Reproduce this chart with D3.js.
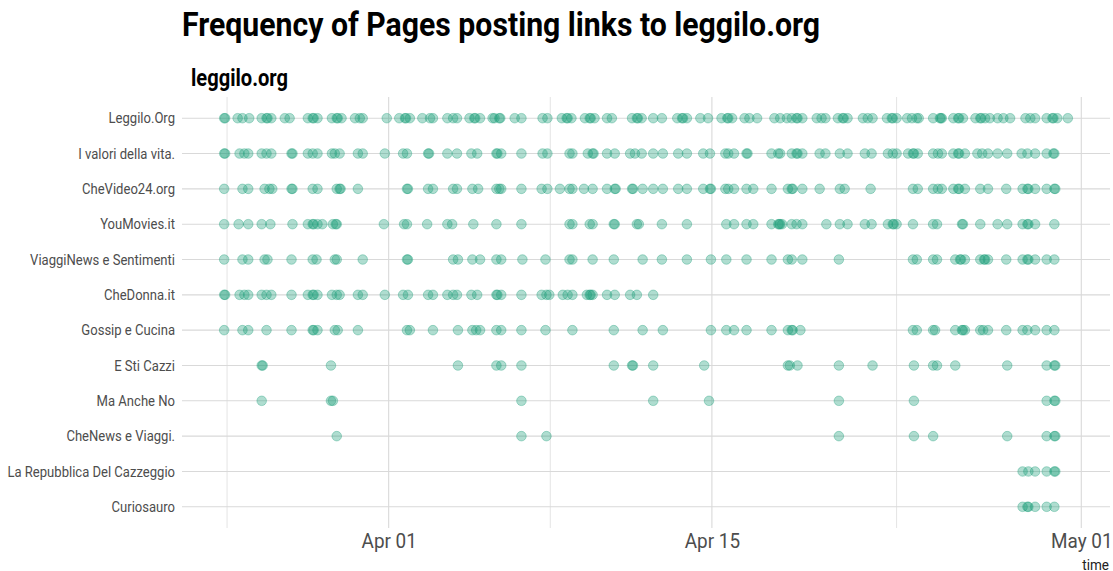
<!DOCTYPE html>
<html>
<head>
<meta charset="utf-8">
<script src="https://cdn.jsdelivr.net/npm/d3@7"></script>
<style>
  body { margin: 0; background: #fff; }
  text { font-family: Roboto, "Noto Sans", sans-serif; }
</style>
</head>
<body>
<div id="chart"></div>
<script>
// pages, top to bottom
const pages = ["Leggilo.Org", "I valori della vita.", "CheVideo24.org", "YouMovies.it",
  "ViaggiNews e Sentimenti", "CheDonna.it", "Gossip e Cucina", "E Sti Cazzi",
  "Ma Anche No", "CheNews e Viaggi.", "La Repubblica Del Cazzeggio", "Curiosauro"];

// post times per page, "MM-DD HH" (2018)
const leggiloOrg = ["03-24 21","03-24 22","03-25 11","03-25 16","03-25 23","03-26 12","03-26 17","03-26 18","03-26 22",
  "03-27 12","03-27 17","03-28 12","03-28 17","03-28 18","03-28 22","03-29 13","03-29 18","03-29 19","03-29 23",
  "03-30 13","03-30 18","03-30 21","03-31 22","04-01 11","04-01 17","04-01 18","04-01 22","04-02 11","04-02 19",
  "04-02 22","04-03 13","04-03 19","04-03 23","04-04 12","04-04 17","04-04 18","04-04 23","04-05 12","04-05 14",
  "04-05 19","04-05 20","04-06 11","04-06 18","04-07 16","04-07 21","04-08 12","04-08 17","04-08 18","04-08 22",
  "04-09 12","04-09 17","04-09 18","04-09 22","04-10 11","04-10 16","04-11 13","04-11 18","04-11 19","04-11 23",
  "04-12 11","04-12 20","04-13 12","04-13 17","04-13 18","04-13 22","04-14 12","04-14 20","04-15 10","04-15 16",
  "04-15 17","04-15 21","04-16 10","04-16 15","04-16 23","04-17 17","04-17 23","04-18 06","04-18 11","04-18 16",
  "04-18 17","04-18 22","04-19 13","04-19 18","04-19 22","04-20 11","04-20 16","04-20 17","04-20 21","04-21 13",
  "04-21 18","04-21 23","04-22 14","04-22 19","04-22 20","04-23 00","04-23 11","04-23 16","04-23 21","04-23 23",
  "04-24 14","04-24 21","04-24 22","04-24 23","04-25 11","04-25 16","04-25 17","04-25 21","04-26 10","04-26 15",
  "04-26 16","04-26 20","04-27 01","04-27 09","04-27 15","04-27 22","04-28 14","04-28 19","04-29 00","04-29 12",
  "04-29 18","04-29 19","04-29 23","04-30 10"];
const iValori = ["03-24 21","03-24 22","03-25 13","03-25 18","03-25 22","03-26 12","03-26 17","03-26 22","03-27 19",
  "03-27 20","03-28 12","03-28 17","03-28 22","03-29 13","03-29 16","03-29 21","03-30 16","03-30 21","03-31 20",
  "04-01 15","04-01 19","04-02 17","04-02 18","04-03 13","04-03 23","04-04 14","04-04 20","04-05 16","04-05 17",
  "04-05 21","04-06 18","04-07 16","04-07 21","04-08 20","04-08 23","04-09 15","04-09 20","04-09 21","04-10 11",
  "04-10 19","04-11 11","04-11 16","04-11 23","04-12 11","04-12 21","04-13 13","04-13 22","04-14 15","04-14 22",
  "04-15 14","04-15 17","04-15 23","04-16 12","04-16 13","04-17 14","04-17 21","04-17 23","04-18 11","04-18 16",
  "04-18 17","04-18 22","04-19 16","04-19 22","04-20 13","04-20 21","04-21 15","04-21 22","04-22 15","04-22 20",
  "04-23 00","04-23 12","04-23 17","04-23 18","04-23 22","04-24 14","04-24 19","04-24 23","04-25 11","04-25 16",
  "04-25 17","04-25 23","04-26 12","04-26 17","04-26 23","04-27 09","04-27 19","04-28 10","04-28 16","04-29 00",
  "04-29 12","04-29 19","04-29 20"];
const cheVideo24 = ["03-24 21","03-25 16","03-25 22","03-26 15","03-26 20","03-26 23","03-27 19","03-27 20","03-28 17",
  "03-28 22","03-29 18","03-29 21","03-29 22","03-30 16","04-01 19","04-01 20","04-02 17","04-02 22","04-03 19",
  "04-03 23","04-04 15","04-04 21","04-05 16","04-05 19","04-05 21","04-06 18","04-07 15","04-07 21","04-08 10",
  "04-08 20","04-08 23","04-09 11","04-09 20","04-10 11","04-10 19","04-10 20","04-11 13","04-11 14","04-12 00",
  "04-12 11","04-12 21","04-13 13","04-13 22","04-14 15","04-14 22","04-14 23","04-15 14","04-15 17","04-15 23",
  "04-16 12","04-16 19","04-17 14","04-18 07","04-18 11","04-18 12","04-18 22","04-19 16","04-20 13","04-20 18",
  "04-21 21","04-23 17","04-23 22","04-24 14","04-24 19","04-24 23","04-25 11","04-25 16","04-25 17","04-25 23",
  "04-26 15","04-26 23","04-27 18","04-28 11","04-28 16","04-28 17","04-29 00","04-29 12","04-29 20","04-29 21"];
const youMovies = ["03-24 21","03-25 12","03-25 22","03-26 12","03-26 21","03-27 20","03-28 12","03-28 17","03-28 18",
  "03-28 22","03-29 03","03-29 14","03-29 17","03-29 18","03-31 19","04-01 16","04-01 19","04-02 16","04-03 13",
  "04-03 18","04-04 16","04-05 16","04-06 18","04-08 20","04-08 23","04-09 17","04-09 20","04-10 18","04-10 19",
  "04-11 18","04-11 20","04-12 20","04-13 22","04-15 15","04-15 23","04-16 12","04-16 19","04-17 14","04-17 21",
  "04-17 22","04-17 23","04-18 01","04-18 11","04-18 16","04-18 22","04-19 23","04-20 13","04-20 21","04-21 15",
  "04-21 22","04-22 15","04-22 20","04-22 21","04-23 00","04-23 17","04-24 14","04-24 18","04-25 20","04-25 21",
  "04-26 15","04-27 09","04-27 19","04-28 11","04-28 16","04-28 17","04-29 00","04-29 20"];
const viaggiNews = ["03-24 21","03-25 16","03-25 22","03-26 15","03-26 18","03-27 19","03-28 17","03-28 21","03-29 16",
  "03-29 18","03-30 21","04-01 19","04-01 20","04-03 19","04-04 00","04-04 15","04-04 23","04-05 16","04-05 21",
  "04-06 19","04-07 19","04-08 20","04-08 23","04-09 20","04-10 18","04-12 00","04-12 20","04-13 22","04-14 23",
  "04-15 15","04-16 12","04-17 14","04-18 07","04-18 11","04-18 22","04-20 12","04-23 17","04-23 21","04-24 14",
  "04-24 18","04-25 13","04-25 18","04-25 19","04-25 23","04-26 15","04-26 19","04-26 20","04-26 23","04-27 18",
  "04-28 11","04-28 16","04-28 17","04-29 00","04-29 12","04-29 20"];
const cheDonna = ["03-24 21","03-24 22","03-25 13","03-25 18","03-25 22","03-26 12","03-26 17","03-26 22","03-27 19",
  "03-28 12","03-28 17","03-28 18","03-28 22","03-29 13","03-29 18","03-29 21","03-30 16","03-30 21","03-31 20",
  "04-01 15","04-01 20","04-02 17","04-02 22","04-03 13","04-03 19","04-03 23","04-04 14","04-04 20","04-05 16",
  "04-05 17","04-05 21","04-06 18","04-07 15","04-07 20","04-07 23","04-08 13","04-08 18","04-08 23","04-09 14",
  "04-09 17","04-09 18","04-09 20","04-10 11","04-10 19","04-11 11","04-11 18","04-12 11"];
const gossipCucina = ["03-24 21","03-25 16","03-25 22","03-26 17","03-27 19","03-28 17","03-28 18","03-28 22","03-29 16",
  "03-29 19","03-30 16","04-01 19","04-01 22","04-02 22","04-04 00","04-04 15","04-04 19","04-04 23","04-05 16",
  "04-05 21","04-06 18","04-07 19","04-08 23","04-10 18","04-12 00","04-12 21","04-14 23","04-15 15","04-15 23",
  "04-16 12","04-17 14","04-18 07","04-18 11","04-18 12","04-18 20","04-23 17","04-23 21","04-24 14","04-24 16",
  "04-25 13","04-25 20","04-25 21","04-25 23","04-26 15","04-26 18","04-26 23","04-27 18","04-28 11","04-28 16",
  "04-29 00","04-29 12","04-29 20"];
const eStiCazzi = ["03-26 12","03-26 13","03-29 12","04-04 00","04-05 16","04-05 21","04-06 18","04-10 18","04-11 13",
  "04-11 14","04-12 11","04-14 16","04-18 07","04-18 09","04-18 17","04-20 12","04-21 23","04-23 18","04-24 14",
  "04-24 18","04-25 13","04-27 19","04-29 12","04-29 20","04-29 21"];
const maAncheNo = ["03-26 12","03-29 12","03-29 14","04-06 18","04-12 11","04-14 21","04-20 12","04-23 18","04-29 12",
  "04-29 20","04-29 21"];
const cheNews = ["03-29 18","04-06 18","04-07 20","04-20 12","04-23 18","04-24 14","04-27 19","04-29 12","04-29 20",
  "04-29 21"];
const laRepubblica = ["04-28 11","04-28 17","04-29 00","04-29 12","04-29 20","04-29 21"];
const curiosauro = ["04-28 11","04-28 16","04-28 17","04-29 00","04-29 12","04-29 20"];

const postTimes = [leggiloOrg, iValori, cheVideo24, youMovies, viaggiNews, cheDonna, gossipCucina,
  eStiCazzi, maAncheNo, cheNews, laRepubblica, curiosauro];

// axis breaks
const majorTicks = ["04-01 00", "04-15 00", "05-01 00"];
const minorTicks = ["03-25 00", "04-08 00", "04-23 00"];

const titleText = "Frequency of Pages posting links to leggilo.org";
const subtitleText = "leggilo.org";
const xLabel = "time";

const parse = s => d3.timeParse("%Y-%m-%d %H")("2018-" + s);

let data = [];
pages.forEach(function (p, i) {
  postTimes[i].forEach(function (t) { data.push({ page: p, time: parse(t) }); });
});

let width = 1113, height = 571;
let panel = { left: 182, right: 1110, top: 97, bottom: 528 };

let svg = d3.select("#chart").append("svg")
  .attr("width", width)
  .attr("height", height);

// x: data extent expanded 5% each side (like ggplot)
let ext = d3.extent(data, d => d.time);
let pad = (ext[1] - ext[0]) * 0.05;
let x = d3.scaleTime()
  .domain([new Date(+ext[0] - pad), new Date(+ext[1] + pad)])
  .range([panel.left, panel.right]);

let y = d3.scalePoint()
  .domain(pages)
  .range([panel.top, panel.bottom])
  .padding(0.6);

// grid
let grid = svg.append("g");
grid.selectAll(".minor")
  .data(minorTicks.map(parse))
  .enter().append("line")
  .attr("x1", d => x(d)).attr("x2", d => x(d))
  .attr("y1", panel.top).attr("y2", panel.bottom)
  .attr("stroke", "#e4e4e4").attr("stroke-width", 1);
grid.selectAll(".major")
  .data(majorTicks.map(parse))
  .enter().append("line")
  .attr("x1", d => x(d)).attr("x2", d => x(d))
  .attr("y1", panel.top).attr("y2", panel.bottom)
  .attr("stroke", "#d9d9d9").attr("stroke-width", 1.1);
grid.selectAll(".hline")
  .data(pages)
  .enter().append("line")
  .attr("x1", panel.left).attr("x2", panel.right)
  .attr("y1", d => y(d)).attr("y2", d => y(d))
  .attr("stroke", "#d9d9d9").attr("stroke-width", 1.1);

// points
svg.append("g").selectAll(".dot")
  .data(data)
  .enter().append("circle")
  .attr("class", "dot")
  .attr("cx", d => x(d.time))
  .attr("cy", d => y(d.page))
  .attr("r", 4.8)
  .attr("fill", "#1b9e77")
  .attr("fill-opacity", 0.35)
  .attr("stroke", "#1b9e77")
  .attr("stroke-opacity", 0.35)
  .attr("stroke-width", 1);

// condensed look: squeeze text horizontally
function condense(sel, f) {
  sel.each(function () {
    let w = this.getComputedTextLength();
    d3.select(this).attr("textLength", w * f).attr("lengthAdjust", "spacingAndGlyphs");
  });
}

// y axis
let yAxis = svg.append("g")
  .attr("transform", "translate(" + (panel.left - 7) + ",0)")
  .call(d3.axisLeft(y).tickSize(0).tickPadding(0));
yAxis.select(".domain").remove();
yAxis.selectAll("text")
  .attr("font-size", 14.5)
  .attr("font-family", "Roboto")
  .attr("fill", "#4d4d4d")
  .call(condense, 0.9);

// x axis
let xAxis = svg.append("g")
  .attr("transform", "translate(0," + panel.bottom + ")")
  .call(d3.axisBottom(x).tickValues(majorTicks.map(parse)).tickFormat(d3.timeFormat("%b %d")).tickSize(0).tickPadding(5));
xAxis.select(".domain").remove();
xAxis.selectAll("text")
  .attr("font-size", 21)
  .attr("font-family", "Roboto")
  .attr("fill", "#4d4d4d")
  .call(condense, 0.9);

svg.append("text")
  .attr("x", 1109).attr("y", 570)
  .attr("text-anchor", "end")
  .attr("font-size", 15)
  .attr("fill", "#222")
  .text(xLabel)
  .call(condense, 0.9);

// titles
svg.append("text")
  .attr("x", 182).attr("y", 36)
  .attr("font-size", 33)
  .attr("font-weight", "bold")
  .attr("fill", "#000")
  .attr("textLength", 638).attr("lengthAdjust", "spacingAndGlyphs")
  .text(titleText);

svg.append("text")
  .attr("x", 191).attr("y", 86)
  .attr("font-size", 23.5)
  .attr("font-weight", "bold")
  .attr("fill", "#000")
  .attr("textLength", 97).attr("lengthAdjust", "spacingAndGlyphs")
  .text(subtitleText);
</script>
</body>
</html>
